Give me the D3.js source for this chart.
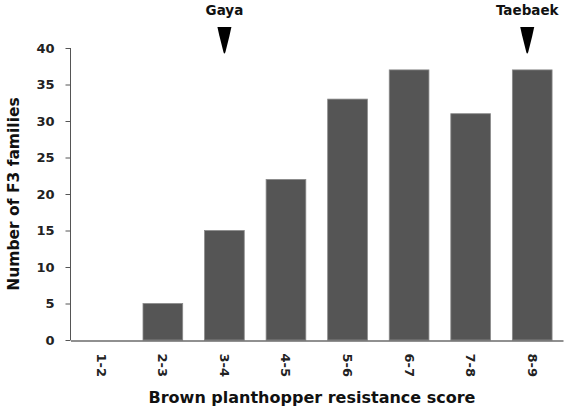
<!DOCTYPE html>
<html>
<head>
<meta charset="utf-8">
<script src="https://cdn.jsdelivr.net/npm/d3@7"></script>
<style>
  html, body { margin: 0; padding: 0; background: #fff; }
  svg { display: block; font-family: "DejaVu Sans", sans-serif; }
</style>
</head>
<body>
<script>
const categories = ["1-2", "2-3", "3-4", "4-5", "5-6", "6-7", "7-8", "8-9"];
const counts = [0, 5, 15, 22, 33, 37, 31, 37];
const yTicks = [0, 5, 10, 15, 20, 25, 30, 35, 40];
const markers = [{ cat: "3-4", label: "Gaya", dx: 0 }, { cat: "8-9", label: "Taebaek", dx: -5 }];
const xTitle = "Brown planthopper resistance score";
const yTitle = "Number of F3 families";

const W = 567, H = 412;
const FONT = "'DejaVu Sans', sans-serif";
const svg = d3.select("body").append("svg").attr("width", W).attr("height", H);

const x = d3.scaleBand().domain(categories).range([70.5, 563]).paddingInner(0.355).paddingOuter(0.1775);
const y = d3.scaleLinear().domain([0, 40]).range([340, 48]);

// bars
svg.append("g").selectAll("rect").data(categories).join("rect")
  .attr("x", d => x(d))
  .attr("width", x.bandwidth())
  .attr("y", (d, i) => y(counts[i]))
  .attr("height", (d, i) => y(0) - y(counts[i]))
  .attr("fill", "#555555")
  .attr("stroke", "#8a8a8a")
  .attr("stroke-width", 0.8);

// y axis
const yAxis = svg.append("g").attr("transform", "translate(70.5,0)")
  .call(d3.axisLeft(y).tickValues(yTicks).tickSize(5).tickPadding(11));
yAxis.select(".domain").attr("stroke", "#555").attr("d", `M0,${y(40)}V${y(0)}`);
yAxis.selectAll(".tick line").attr("stroke", "#555");
yAxis.selectAll(".tick text").attr("font-size", 13).attr("font-weight", "bold").attr("fill", "#222")
  .attr("font-family", FONT);

// x axis
const xAxis = svg.append("g").attr("transform", `translate(0,${y(0) + 0.5})`)
  .call(d3.axisBottom(x).tickSize(0).tickPadding(0));
xAxis.select(".domain").attr("stroke", "#222").attr("stroke-width", 1.2);
xAxis.selectAll(".tick text")
  .attr("font-size", 13).attr("font-weight", "bold").attr("fill", "#222")
  .attr("font-family", FONT)
  .attr("text-anchor", "start")
  .attr("transform", "rotate(90)")
  .attr("x", 13).attr("y", 0).attr("dy", "0.35em");

// axis titles
svg.append("text").attr("x", 312).attr("y", 403).attr("text-anchor", "middle")
  .attr("font-size", 16).attr("font-weight", "bold").attr("fill", "#111").text(xTitle);
svg.append("text").attr("transform", `translate(19,${(y(0) + y(40)) / 2}) rotate(-90)`)
  .attr("text-anchor", "middle").attr("font-size", 15.5).attr("font-weight", "bold").attr("fill", "#111").text(yTitle);

// markers
const mg = svg.append("g").selectAll("g").data(markers).join("g")
  .attr("transform", d => `translate(${x(d.cat) + x.bandwidth() / 2 + d.dx},0)`);
mg.append("text").attr("y", 15).attr("text-anchor", "middle")
  .attr("font-size", 13.5).attr("font-weight", "bold").attr("fill", "#111").text(d => d.label);
mg.append("path").attr("d", "M-7,27 L7,27 L5,36 L1,52 Q0,55 -1,52 L-5,36 Z").attr("fill", "#000");
</script>
</body>
</html>
